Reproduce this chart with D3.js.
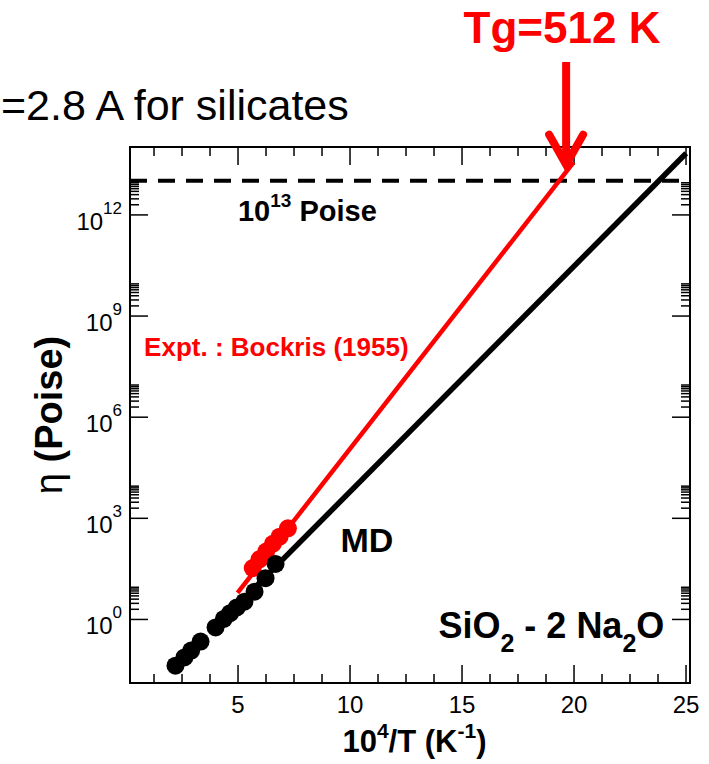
<!DOCTYPE html>
<html lang="en">
<head>
<meta charset="UTF-8">
<title>Viscosity of SiO2 - 2 Na2O</title>
<script src="https://d3js.org/d3.v7.min.js"></script>
<style>
  body { margin: 0; background: #fff; }
  svg { display: block; font-family: "Liberation Sans", Arial, sans-serif; }
  .tick line { stroke: #000; stroke-width: 1.5; }
  .tick text { fill: #000; }
</style>
</head>
<body>
<svg id="chart" width="709" height="764"></svg>
<script>
// MD points: 10^4/T and viscosity (Poise)
const mdX = [2.23, 2.63, 2.93, 3.35, 4.02, 4.39, 4.67, 4.97, 5.31, 5.76, 6.25, 6.70];
const mdEta = [0.041, 0.072, 0.115, 0.214, 0.56, 1.0, 1.48, 2.19, 3.24, 6.46, 16.2, 42.7];

// Bockris (1955) experiment
const exptX = [5.68, 5.98, 6.28, 6.58, 6.88, 7.25];
const exptEta = [32.4, 58.9, 100, 170, 275, 490];

// fitted lines (end points)
const mdFitX = [5.5, 25.03];
const mdFitEta = [5.6, 6.5e13];
const exptFitX = [5.0, 20.0];
const exptFitEta = [5.9, 3.5e13];

const glassEta = 1e13;          // 10^13 Poise line
const tgX = 19.67, tgEta = 3.0e13; // arrow tip

const xTicks = [5, 10, 15, 20, 25];
const xMinor = [1.25, 2.5, 3.75, 6.25, 7.5, 8.75, 11.25, 12.5, 13.75, 16.25, 17.5, 18.75, 21.25, 22.5, 23.75];
const yTickExp = [0, 3, 6, 9, 12];

const margin = { left: 130, top: 147, right: 19, bottom: 81 };
const W = 709, H = 764;
const w = W - margin.left - margin.right;
const h = H - margin.top - margin.bottom;

const svg = d3.select("#chart");
const g = svg.append("g").attr("transform", `translate(${margin.left},${margin.top})`);

const x = d3.scaleLinear().domain([0.2, 25.2]).range([0, w]);
const y = d3.scaleLog().domain([Math.pow(10, -1.9), 1e14]).range([h, 0]);

const yMajor = yTickExp.map(e => Math.pow(10, e));
const yMinor = [];
yTickExp.forEach(e => { for (let m = 2; m <= 9; m++) yMinor.push(m * Math.pow(10, e)); });

// axes, ticks pointing inward
function drawAxes() {
  const major = 18, minor = 9;
  g.append("g").attr("transform", `translate(0,${h})`)
    .call(d3.axisBottom(x).tickValues(xTicks).tickSize(-major).tickSizeOuter(0).tickPadding(13))
    .call(a => a.selectAll("text").attr("font-size", 24).attr("font-family", "Liberation Sans, Arial"));
  g.append("g").attr("transform", `translate(0,${h})`)
    .call(d3.axisBottom(x).tickValues(xMinor).tickSize(-minor).tickSizeOuter(0).tickFormat(""));
  g.append("g")
    .call(d3.axisTop(x).tickValues(xTicks).tickSize(-major).tickSizeOuter(0).tickFormat(""));
  g.append("g")
    .call(d3.axisTop(x).tickValues(xMinor).tickSize(-minor).tickSizeOuter(0).tickFormat(""));

  const left = g.append("g")
    .call(d3.axisLeft(y).tickValues(yMajor).tickSize(-major).tickSizeOuter(0).tickPadding(8).tickFormat(""));
  left.selectAll(".tick text").each(function(d) {
    const t = d3.select(this).attr("dy", null).attr("y", 15)
      .attr("font-family", "Liberation Sans, Arial");
    t.append("tspan").attr("font-size", 24).text("10");
    t.append("tspan").attr("font-size", 17).attr("dy", -16).text(Math.round(Math.log10(d)));
  });
  g.append("g")
    .call(d3.axisLeft(y).tickValues(yMinor).tickSize(-minor).tickSizeOuter(0).tickFormat(""));
  g.append("g").attr("transform", `translate(${w},0)`)
    .call(d3.axisRight(y).tickValues(yMajor).tickSize(-major).tickSizeOuter(0).tickFormat(""));
  g.append("g").attr("transform", `translate(${w},0)`)
    .call(d3.axisRight(y).tickValues(yMinor).tickSize(-minor).tickSizeOuter(0).tickFormat(""));

  g.selectAll(".domain").remove();
  g.append("rect").attr("width", w).attr("height", h)
    .attr("fill", "none").attr("stroke", "#000").attr("stroke-width", 2);
}
drawAxes();

// 10^13 Poise dashed line
g.append("line")
  .attr("x1", 0).attr("x2", w)
  .attr("y1", y(glassEta)).attr("y2", y(glassEta))
  .attr("stroke", "#000").attr("stroke-width", 4).attr("stroke-dasharray", "17,11");

const line = d3.line().x(d => x(d[0])).y(d => y(d[1]));

g.append("path")
  .datum(d3.zip(exptFitX, exptFitEta))
  .attr("d", line).attr("fill", "none").attr("stroke", "#ff0000").attr("stroke-width", 4.5);
g.append("path")
  .datum(d3.zip(mdFitX, mdFitEta))
  .attr("d", line).attr("fill", "none").attr("stroke", "#000").attr("stroke-width", 5.5);

g.selectAll(".expt").data(d3.zip(exptX, exptEta)).enter()
  .append("circle").attr("class", "expt")
  .attr("cx", d => x(d[0])).attr("cy", d => y(d[1])).attr("r", 9).attr("fill", "#ff0000");
g.selectAll(".md").data(d3.zip(mdX, mdEta)).enter()
  .append("circle").attr("class", "md")
  .attr("cx", d => x(d[0])).attr("cy", d => y(d[1])).attr("r", 9).attr("fill", "#000");

// labels in the plot
const poise = g.append("text").attr("x", x(5.02)).attr("y", y(glassEta) + 40)
  .attr("font-weight", "bold").attr("font-size", 29);
poise.append("tspan").text("10");
poise.append("tspan").attr("font-size", 19).attr("dy", -14).text("13");
poise.append("tspan").attr("dy", 14).text(" Poise");

g.append("text").attr("x", x(0.83)).attr("y", y(Math.pow(10, 7.8)))
  .attr("font-weight", "bold").attr("font-size", 26).attr("fill", "#ff0000")
  .text("Expt. : Bockris (1955)");

g.append("text").attr("x", x(9.6)).attr("y", y(Math.pow(10, 2.0)))
  .attr("font-weight", "bold").attr("font-size", 34).text("MD");

const comp = g.append("text").attr("x", x(13.97)).attr("y", y(Math.pow(10, -0.56)))
  .attr("font-weight", "bold").attr("font-size", 36);
comp.append("tspan").text("SiO");
comp.append("tspan").attr("font-size", 25).attr("dy", 14).text("2");
comp.append("tspan").attr("dy", -14).text(" - 2 Na");
comp.append("tspan").attr("font-size", 25).attr("dy", 14).text("2");
comp.append("tspan").attr("dy", -14).text("O");

// axis titles
const xt = svg.append("text").attr("x", margin.left + x(12.9)).attr("y", 752)
  .attr("text-anchor", "middle").attr("font-weight", "bold").attr("font-size", 31);
xt.append("tspan").text("10");
xt.append("tspan").attr("font-size", 21).attr("dy", -14).text("4");
xt.append("tspan").attr("dy", 14).text("/T (K");
xt.append("tspan").attr("font-size", 21).attr("dy", -14).text("-1");
xt.append("tspan").attr("dy", 14).text(")");

const yt = svg.append("text")
  .attr("transform", `translate(62,${margin.top + h / 2}) rotate(-90)`)
  .attr("text-anchor", "middle").attr("font-weight", "bold").attr("font-size", 38);
yt.append("tspan").attr("font-weight", "normal").text("η");
yt.append("tspan").text(" (Poise)");

// slide annotations
svg.append("text").attr("x", 1).attr("y", 120)
  .attr("font-size", 43).attr("fill", "#000")
  .text("=2.8 A for silicates");

svg.append("text").attr("x", 562).attr("y", 43).attr("text-anchor", "middle")
  .attr("font-weight", "bold").attr("font-size", 44).attr("fill", "#ff0000")
  .text("Tg=512 K");

// arrow down to Tg
const ax = margin.left + x(tgX), ay = margin.top + y(tgEta);
svg.append("line").attr("x1", ax).attr("x2", ax).attr("y1", 62).attr("y2", ay - 4)
  .attr("stroke", "#ff0000").attr("stroke-width", 8);
svg.append("path")
  .attr("d", `M${ax - 17},${ay - 30} L${ax},${ay} L${ax + 17},${ay - 30}`)
  .attr("fill", "none").attr("stroke", "#ff0000").attr("stroke-width", 8)
  .attr("stroke-linecap", "round").attr("stroke-linejoin", "miter");
</script>
</body>
</html>
